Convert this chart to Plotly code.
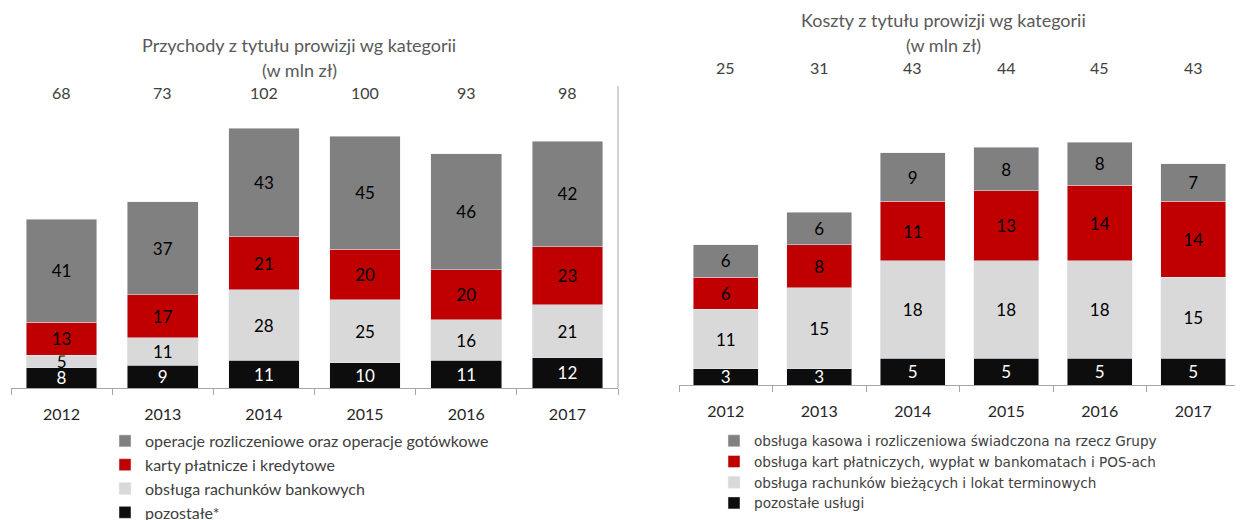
import plotly.graph_objects as go

years = ['2012', '2013', '2014', '2015', '2016', '2017']

# przychody (left chart), values from bottom to top of each bar
inc_other = [8, 9, 11, 10, 11, 12]
inc_accounts = [5, 11, 28, 25, 16, 21]
inc_cards = [13, 17, 21, 20, 20, 23]
inc_settlement = [41, 37, 43, 45, 46, 42]
inc_totals = [68, 73, 102, 100, 93, 98]

# koszty (right chart)
cost_other = [3, 3, 5, 5, 5, 5]
cost_accounts = [11, 15, 18, 18, 18, 15]
cost_cards = [6, 8, 11, 13, 14, 14]
cost_cash = [6, 6, 9, 8, 8, 7]
cost_totals = [25, 31, 43, 44, 45, 43]

inc_names = ['pozostałe*',
             'obsługa rachunków bankowych',
             'karty płatnicze i kredytowe',
             'operacje rozliczeniowe oraz operacje gotówkowe']
cost_names = ['pozostałe usługi',
              'obsługa rachunków bieżących i lokat terminowych',
              'obsługa kart płatniczych, wypłat w bankomatach i POS-ach',
              'obsługa kasowa i rozliczeniowa świadczona na rzecz Grupy']

COLORS = ['#0d0d0d', '#d9d9d9', '#c00000', '#808080']
TEXT_COLORS = ['#ffffff', '#000000', '#000000', '#000000']
FONT = 'Lato'

# the page body has an 8px margin, so the figure is a bit smaller than the window
OFF = 8
W, H = 1243 - OFF, 520 - OFF


def px_x(x):
    return (x - OFF) / W


def px_y(y):
    return 1 - (y - OFF) / H


fig = go.Figure()

for values, name, color, tcolor in zip([inc_other, inc_accounts, inc_cards, inc_settlement],
                                       inc_names, COLORS, TEXT_COLORS):
    fig.add_bar(x=years, y=values, name=name, marker_color=color,
                text=values, textposition='inside', insidetextanchor='middle',
                textangle=0, constraintext='none',
                textfont=dict(color=tcolor, size=17, family=FONT),
                xaxis='x', yaxis='y', legend='legend', hoverinfo='skip')

for values, name, color, tcolor in zip([cost_other, cost_accounts, cost_cards, cost_cash],
                                       cost_names, COLORS, TEXT_COLORS):
    fig.add_bar(x=years, y=values, name=name, marker_color=color,
                text=values, textposition='inside', insidetextanchor='middle',
                textangle=0, constraintext='none',
                textfont=dict(color=tcolor, size=17, family=FONT),
                xaxis='x2', yaxis='y2', legend='legend2', hoverinfo='skip')

axis_common = dict(type='category', range=[-0.5, len(years) - 0.5],
                   showline=True, linecolor='#a6a6a6', linewidth=1,
                   ticks='outside', tickson='boundaries', ticklen=6, tickcolor='#a6a6a6',
                   ticklabelstandoff=12,
                   tickfont=dict(size=16, color='#262626', family=FONT), fixedrange=True)

# totals shown above the bars (x given as category index)
annotations = []
for i, total in enumerate(inc_totals):
    annotations.append(dict(x=i, y=px_y(92), xref='x', yref='paper', text=str(total),
                            xanchor='center', yanchor='middle', showarrow=False,
                            font=dict(size=16, color='#404040', family=FONT)))
for i, total in enumerate(cost_totals):
    annotations.append(dict(x=i, y=px_y(67), xref='x2', yref='paper', text=str(total),
                            xanchor='center', yanchor='middle', showarrow=False,
                            font=dict(size=16, color='#404040', family=FONT)))

title_font = dict(size=18, color='#595959', family=FONT)
for x, y, text in [(299, 45, 'Przychody z tytułu prowizji wg kategorii'),
                   (299, 70, '(w mln zł)'),
                   (943, 20, 'Koszty z tytułu prowizji wg kategorii'),
                   (943, 45, '(w mln zł)')]:
    annotations.append(dict(x=px_x(x), y=px_y(y), xref='paper', yref='paper', text=text,
                            xanchor='center', yanchor='middle', showarrow=False,
                            font=title_font))

legend_common = dict(orientation='v', traceorder='reversed', bgcolor='rgba(0,0,0,0)',
                     xanchor='left', yanchor='top', itemclick=False, itemdoubleclick=False)

fig.update_layout(
    width=W, height=H,
    margin=dict(l=0, r=0, t=0, b=0, autoexpand=False),
    barmode='stack', bargap=0.3,
    plot_bgcolor='white', paper_bgcolor='white',
    font=dict(family=FONT),
    xaxis=dict(domain=[px_x(11), px_x(618)], anchor='y', **axis_common),
    yaxis=dict(domain=[px_y(388), px_y(100)], range=[0, 288 / 2.52], visible=False,
               fixedrange=True),
    xaxis2=dict(domain=[px_x(679), px_x(1240)], anchor='y2', **axis_common),
    yaxis2=dict(domain=[px_y(385), px_y(80)], range=[0, 305 / 5.4], visible=False,
                fixedrange=True),
    legend=dict(x=px_x(105), y=px_y(424), font=dict(size=16, color='#404040', family=FONT),
                **legend_common),
    legend2=dict(x=px_x(714), y=px_y(425.5),
                 font=dict(size=13.6, color='#404040', family='DejaVu Sans'),
                 **legend_common),
    annotations=annotations,
    shapes=[dict(type='line', xref='paper', yref='paper', x0=px_x(618), x1=px_x(618),
                 y0=px_y(86), y1=px_y(388), line=dict(color='#a6a6a6', width=1))],
    showlegend=True,
)

fig.write_html('out.html')
